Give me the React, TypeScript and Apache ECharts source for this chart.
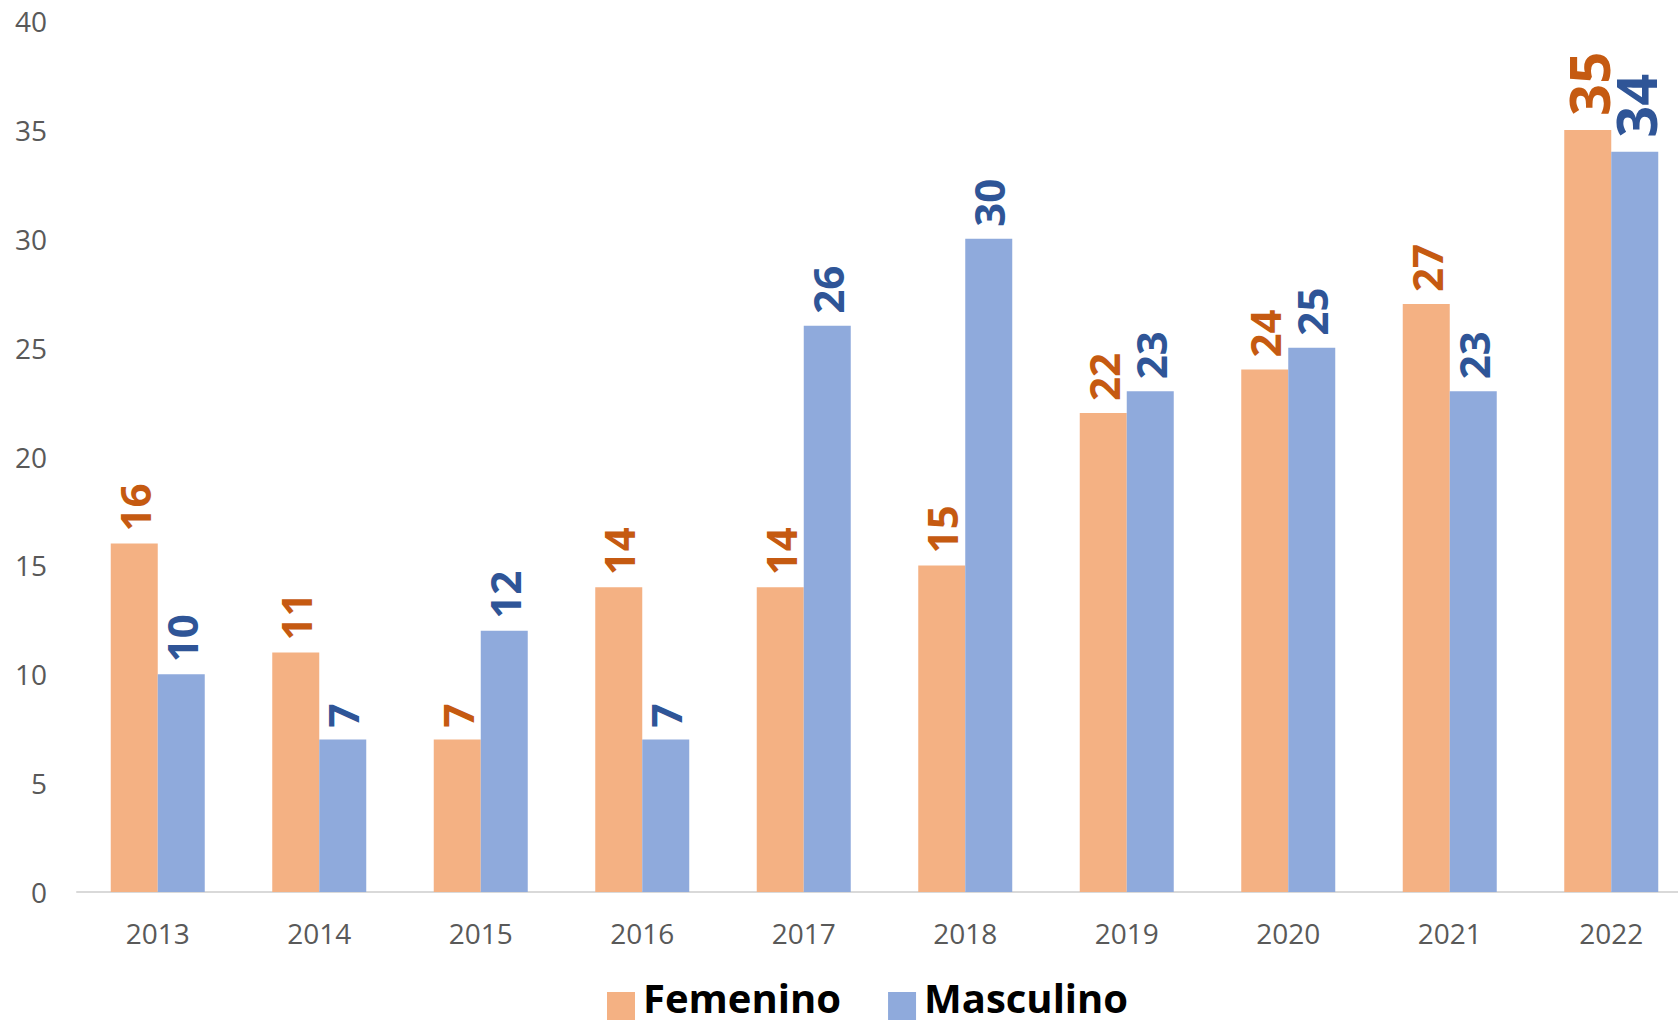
import React, { useEffect, useRef } from "react";
import * as echarts from "echarts";

const categories = ["2013", "2014", "2015", "2016", "2017", "2018", "2019", "2020", "2021", "2022"];
const femenino = [16, 11, 7, 14, 14, 15, 22, 24, 27, 35];
const masculino = [10, 7, 12, 7, 26, 30, 23, 25, 23, 34];

const FONT = "'Open Sans', 'Noto Sans', sans-serif";

function seriesData(values: number[]) {
  return values.map((v, i) =>
    i === values.length - 1 ? { value: v, label: { fontSize: 56, distance: 14 } } : v
  );
}

export default function App() {
  const ref = useRef<HTMLDivElement>(null);
  useEffect(() => {
    if (!ref.current) return;
    const chart = echarts.init(ref.current, null, { renderer: "svg" });
    const labelBase = {
      show: true,
      position: "top",
      rotate: 90,
      align: "left",
      verticalAlign: "middle",
      distance: 12,
      fontFamily: FONT,
      fontWeight: "bold",
      fontSize: 42,
    };
    chart.setOption({
      animation: false,
      backgroundColor: "#ffffff",
      textStyle: { fontFamily: FONT },
      grid: { left: 77, top: 21, width: 1615, height: 871 },
      legend: {
        left: 602,
        top: 969,
        itemWidth: 31,
        itemHeight: 46,
        itemGap: 47,
        icon: "path://M0,0 M0,18 L28,18 L28,46 L0,46 Z M31,0",
        textStyle: {
          fontSize: 40,
          fontWeight: "bold",
          color: "#000",
          fontFamily: FONT,
        },
        data: ["Femenino", "Masculino"],
      },
      xAxis: {
        type: "category",
        data: categories,
        axisLine: { lineStyle: { color: "#D9D9D9", width: 2 } },
        axisTick: { show: false },
        axisLabel: { fontSize: 28, color: "#595959", margin: 27, fontFamily: FONT },
      },
      yAxis: {
        type: "value",
        min: 0,
        max: 40,
        interval: 5,
        splitLine: { show: false },
        axisLine: { show: false },
        axisTick: { show: false },
        axisLabel: { fontSize: 28, color: "#595959", margin: 30, fontFamily: FONT },
      },
      series: [
        {
          name: "Femenino",
          type: "bar",
          data: seriesData(femenino),
          barWidth: 47,
          barGap: "0%",
          itemStyle: { color: "#F4B183" },
          label: { ...labelBase, color: "#C55A11" },
        },
        {
          name: "Masculino",
          type: "bar",
          data: seriesData(masculino),
          barWidth: 47,
          barGap: "0%",
          itemStyle: { color: "#8FAADC" },
          label: { ...labelBase, color: "#2F5597" },
        },
      ],
    });
    return () => chart.dispose();
  }, []);
  return (
    <div
      style={{
        position: "fixed",
        left: 0,
        top: 0,
        width: 1678,
        height: 1024,
        overflow: "hidden",
        background: "#ffffff",
      }}
    >
      <div ref={ref} style={{ width: 1700, height: 1024 }} />
    </div>
  );
}
